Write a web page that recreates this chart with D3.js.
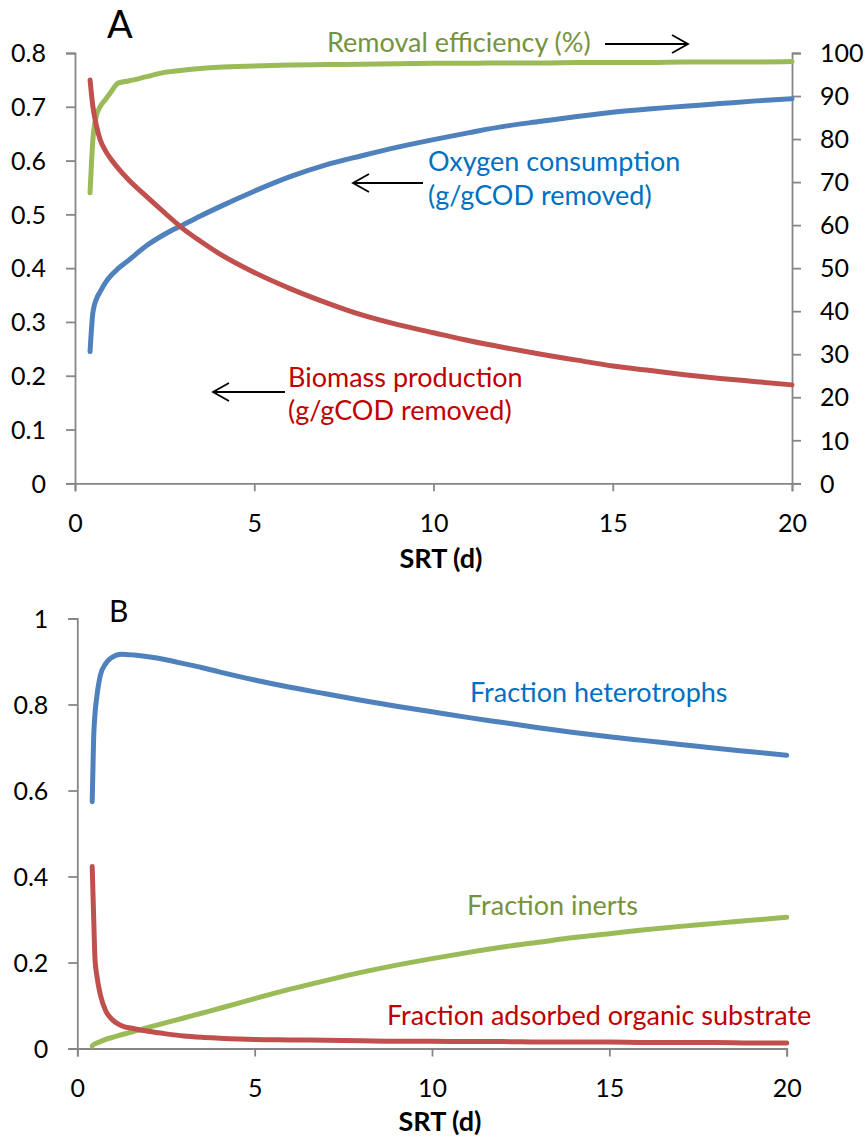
<!DOCTYPE html>
<html>
<head>
<meta charset="utf-8">
<script src="https://cdn.jsdelivr.net/npm/d3@7/dist/d3.min.js"></script>
<style>
  html, body { margin: 0; padding: 0; background: #fff; }
  svg { display: block; font-family: Lato, "Open Sans", sans-serif; }
</style>
</head>
<body>
<svg id="chart" width="868" height="1137"></svg>
<script>
// ---------- DATA ----------
// Panel A
const srtA = [0.42, 0.5, 0.6, 0.7, 0.85, 1.0, 1.2, 1.5, 2, 2.5, 3, 3.5, 4, 5, 6, 7, 8, 9, 10, 11, 12, 13, 14, 15, 16, 17, 18, 19, 20];
const removalEfficiency = [67.5, 80, 85.5, 87.5, 89.2, 90.9, 93.0, 93.5, 94.5, 95.5, 96.0, 96.4, 96.7, 97.0, 97.2, 97.3, 97.4, 97.5, 97.6, 97.6, 97.7, 97.7, 97.8, 97.8, 97.8, 97.9, 97.9, 97.9, 98.0];
const biomassProduction = [0.750, 0.700, 0.664, 0.639, 0.618, 0.603, 0.586, 0.564, 0.533, 0.503, 0.474, 0.450, 0.428, 0.392, 0.362, 0.336, 0.313, 0.295, 0.280, 0.265, 0.252, 0.240, 0.229, 0.218, 0.210, 0.202, 0.195, 0.189, 0.183];
const oxygenConsumption = [0.245, 0.318, 0.343, 0.356, 0.373, 0.386, 0.399, 0.415, 0.442, 0.463, 0.480, 0.497, 0.513, 0.543, 0.570, 0.592, 0.609, 0.625, 0.639, 0.652, 0.664, 0.673, 0.682, 0.690, 0.696, 0.701, 0.706, 0.711, 0.715];

// Panel B
const srtB = [0.42, 0.46, 0.5, 0.55, 0.65, 0.8, 0.95, 1.25, 1.6, 2, 2.5, 3, 3.5, 4, 5, 6, 7, 8, 9, 10, 11, 12, 13, 14, 15, 16, 17, 18, 19, 20];
const fracHeterotrophs = [0.574, 0.720, 0.780, 0.818, 0.868, 0.895, 0.908, 0.917, 0.915, 0.911, 0.904, 0.895, 0.886, 0.876, 0.857, 0.840, 0.825, 0.810, 0.796, 0.783, 0.770, 0.758, 0.746, 0.735, 0.725, 0.716, 0.707, 0.698, 0.690, 0.682];
const fracAdsorbed = [0.423, 0.310, 0.206, 0.170, 0.125, 0.088, 0.070, 0.053, 0.046, 0.040, 0.034, 0.029, 0.026, 0.024, 0.021, 0.020, 0.019, 0.018, 0.017, 0.017, 0.016, 0.016, 0.015, 0.015, 0.015, 0.014, 0.014, 0.014, 0.013, 0.013];
const fracInerts = [0.006, 0.009, 0.011, 0.013, 0.016, 0.021, 0.025, 0.032, 0.040, 0.049, 0.060, 0.071, 0.082, 0.093, 0.116, 0.138, 0.158, 0.177, 0.194, 0.209, 0.223, 0.236, 0.247, 0.258, 0.267, 0.276, 0.284, 0.291, 0.298, 0.305];

// Ticks
const ticksX = [0, 5, 10, 15, 20];
const ticksALeft = [0, 0.1, 0.2, 0.3, 0.4, 0.5, 0.6, 0.7, 0.8];
const ticksARight = [0, 10, 20, 30, 40, 50, 60, 70, 80, 90, 100];
const ticksBLeft = [0, 0.2, 0.4, 0.6, 0.8, 1];

// ---------- STYLE ----------
const C = {
  blue: "#4F81BD", red: "#C0504D", green: "#9BBB59",
  blueText: "#0070C0", redText: "#C00000", greenText: "#77933C",
  axis: "#868686"
};
const LW = 5;
const TICKFONT = 25;
const LABELFONT = 27;

const svg = d3.select("#chart");

function styleAxis(g) {
  g.select(".domain").attr("stroke", C.axis).attr("stroke-width", 1.8);
  g.selectAll(".tick line").attr("stroke", C.axis).attr("stroke-width", 1.8);
  g.selectAll(".tick text").attr("fill", "#000").attr("font-size", TICKFONT).attr("font-family", "Lato, sans-serif");
}

function fmt(v) { return String(+v.toFixed(2)); }

function drawLine(g, xs, ys, x, y, color) {
  const data = xs.map((d, i) => [d, ys[i]]);
  g.append("path")
    .datum(data)
    .attr("fill", "none")
    .attr("stroke", color)
    .attr("stroke-width", LW)
    .attr("stroke-linecap", "round")
    .attr("stroke-linejoin", "round")
    .attr("d", d3.line().x(d => x(d[0])).y(d => y(d[1])).curve(d3.curveMonotoneX));
}

function arrow(g, x1, y1, x2, y2) {
  g.append("line").attr("x1", x1).attr("y1", y1).attr("x2", x2).attr("y2", y2)
    .attr("stroke", "#000").attr("stroke-width", 1.8);
  const dir = Math.sign(x2 - x1);
  g.append("path")
    .attr("d", `M${x2 - dir * 16},${y2 - 9} L${x2},${y2} L${x2 - dir * 16},${y2 + 9}`)
    .attr("fill", "none").attr("stroke", "#000").attr("stroke-width", 1.8);
}

function textLines(g, x, y0, lines, color, dy) {
  lines.forEach((t, i) => {
    g.append("text").attr("x", x).attr("y", y0 + i * dy)
      .attr("fill", color).attr("font-size", LABELFONT).text(t);
  });
}

// ---------- PANEL A ----------
{
  const g = svg.append("g");
  const x = d3.scaleLinear().domain([0, 20]).range([75, 792]);
  const yL = d3.scaleLinear().domain([0, 0.8]).range([483.3, 53]);
  const yR = d3.scaleLinear().domain([0, 100]).range([483.3, 53]);

  const gx = g.append("g").attr("transform", `translate(0,${yL(0)})`)
    .call(d3.axisBottom(x).tickValues(ticksX).tickSize(8).tickPadding(0).tickFormat(d3.format("d")));
  styleAxis(gx);
  gx.selectAll(".tick text").attr("dy", null).attr("y", 48.4);

  const gl = g.append("g").attr("transform", `translate(${x(0)},0)`)
    .call(d3.axisLeft(yL).tickValues(ticksALeft).tickSize(9).tickPadding(20).tickFormat(fmt));
  styleAxis(gl);
  gl.selectAll(".tick text").attr("dy", "0.35em");

  const gr = g.append("g").attr("transform", `translate(${x(20)},0)`)
    .call(d3.axisRight(yR).tickValues(ticksARight).tickSize(9).tickPadding(19).tickFormat(d3.format("d")));
  styleAxis(gr);
  gr.selectAll(".tick text").attr("dy", "0.35em");

  drawLine(g, srtA, removalEfficiency, x, yR, C.green);
  drawLine(g, srtA, oxygenConsumption, x, yL, C.blue);
  drawLine(g, srtA, biomassProduction, x, yL, C.red);

  g.append("text").attr("x", 107).attr("y", 38).attr("font-size", 38).attr("fill", "#000").text("A");
  g.append("text").attr("x", 441).attr("y", 568).attr("text-anchor", "middle")
    .attr("font-size", 27).attr("font-weight", "bold").attr("fill", "#000").text("SRT (d)");

  textLines(g, 327, 52, ["Removal efficiency (%)"], C.greenText, 0);
  arrow(g, 605, 44, 688, 44);
  textLines(g, 428, 171, ["Oxygen consumption", "(g/gCOD removed)"], C.blueText, 34);
  arrow(g, 423, 183, 353, 183);
  textLines(g, 288, 387, ["Biomass production", "(g/gCOD removed)"], C.redText, 33);
  arrow(g, 285, 392, 213, 392);
}

// ---------- PANEL B ----------
{
  const g = svg.append("g");
  const x = d3.scaleLinear().domain([0, 20]).range([77.3, 786.7]);
  const y = d3.scaleLinear().domain([0, 1]).range([1048.5, 618.5]);

  const gx = g.append("g").attr("transform", `translate(0,${y(0)})`)
    .call(d3.axisBottom(x).tickValues(ticksX).tickSize(8).tickPadding(0).tickFormat(d3.format("d")));
  styleAxis(gx);
  gx.selectAll(".tick text").attr("dy", null).attr("y", 48.2);

  const gl = g.append("g").attr("transform", `translate(${x(0)},0)`)
    .call(d3.axisLeft(y).tickValues(ticksBLeft).tickSize(9).tickPadding(20).tickFormat(fmt));
  styleAxis(gl);
  gl.selectAll(".tick text").attr("dy", "0.35em");

  drawLine(g, srtB, fracInerts, x, y, C.green);
  drawLine(g, srtB, fracAdsorbed, x, y, C.red);
  drawLine(g, srtB, fracHeterotrophs, x, y, C.blue);

  g.append("text").attr("x", 109).attr("y", 622).attr("font-size", 30).attr("fill", "#000").text("B");
  g.append("text").attr("x", 440).attr("y", 1131).attr("text-anchor", "middle")
    .attr("font-size", 27).attr("font-weight", "bold").attr("fill", "#000").text("SRT (d)");

  textLines(g, 470, 702, ["Fraction heterotrophs"], C.blueText, 0);
  textLines(g, 467, 915, ["Fraction inerts"], C.greenText, 0);
  textLines(g, 387, 1025, ["Fraction adsorbed organic substrate"], C.redText, 0);
}
</script>
</body>
</html>
